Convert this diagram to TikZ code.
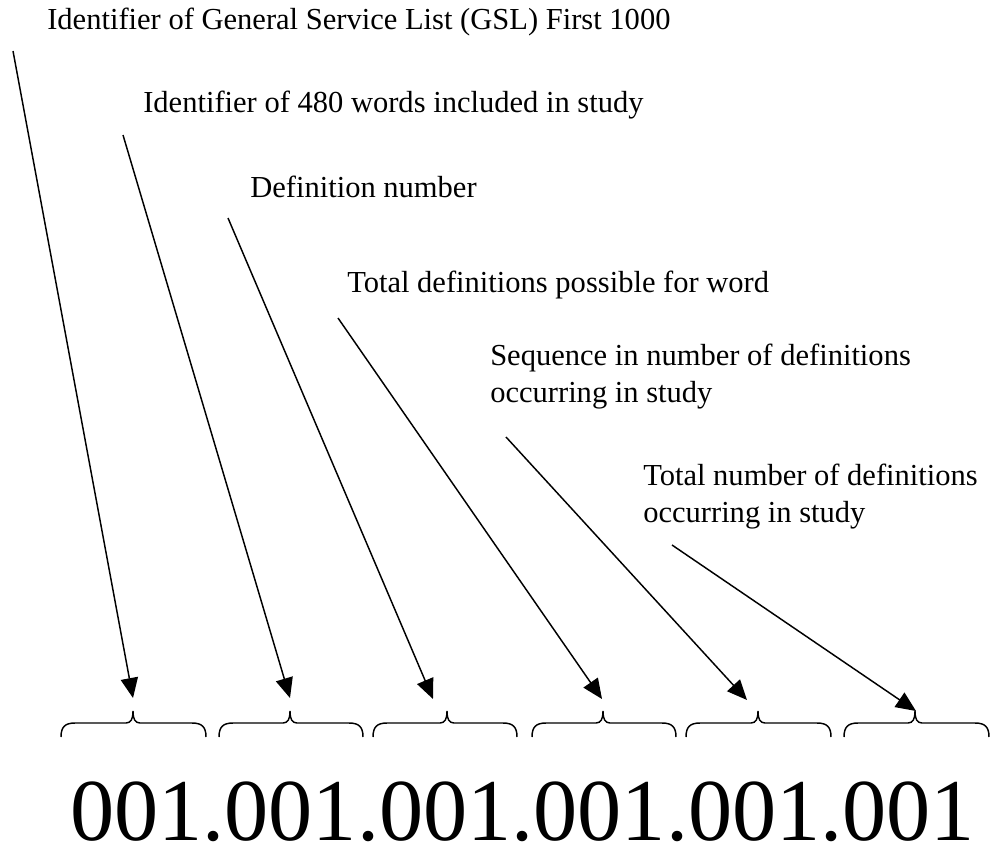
\documentclass[tikz,border=0pt]{standalone}
\usepackage{fontspec}
\setmainfont{Liberation Serif}
\usetikzlibrary{arrows.meta}
\newcommand\gslbrace[4]{% name, left x, cusp x, right x
  \coordinate (#1) at (#3,711);
  \draw[bracestyle] (#2,737) .. controls (#2,727) and (#2+4,723) .. (#2+14,723)
    -- (#3-7,723) .. controls (#3-2,723) and (#3,719) .. (#1)
    .. controls (#3,719) and (#3+2,723) .. (#3+7,723)
    -- (#4-14,723) .. controls (#4-4,723) and (#4,727) .. (#4,737);}
\begin{document}
\begin{tikzpicture}[x=0.75pt,y=-0.75pt,
  lbl/.style={font=\fontsize{22.9}{27.75}\selectfont,inner sep=0pt,anchor=base west,align=left},
  arr/.style={line width=1.1pt,-{Triangle[length=15pt,width=13pt]}},
  bracestyle/.style={line width=1.1pt},
  code/.style={font=\fontsize{66.2}{70}\selectfont,inner sep=0pt,anchor=base west,text depth=0pt}]
\useasboundingbox (0,0) rectangle (997,846);
% labels (multi-line labels are anchored at the baseline of their last line)
\node[lbl] (l1) at (47,30) {Identifier of General Service List (GSL) First 1000};
\node[lbl] (l2) at (143,112) {Identifier of 480 words included in study};
\node[lbl] (l3) at (250,197) {Definition number};
\node[lbl] (l4) at (347,292) {Total definitions possible for word};
\node[lbl] (l5) at (490,402) {Sequence in number of definitions\\occurring in study};
\node[lbl] (l6) at (643,522) {Total number of definitions\\occurring in study};
% arrow starts and ends
\coordinate (s1) at (13,51);   \coordinate (t1) at (133,698);
\coordinate (s2) at (123,135); \coordinate (t2) at (290,698);
\coordinate (s3) at (228,218); \coordinate (t3) at (433,699);
\coordinate (s4) at (338,318); \coordinate (t4) at (602,699);
\coordinate (s5) at (506,437); \coordinate (t5) at (747,700);
\coordinate (s6) at (672,545); \coordinate (t6) at (916,711);
\draw[arr] (s1) -- (t1);
\draw[arr] (s2) -- (t2);
\draw[arr] (s3) -- (t3);
\draw[arr] (s4) -- (t4);
\draw[arr] (s5) -- (t5);
\draw[arr] (s6) -- (t6);
% braces
\gslbrace{b1}{61}{133}{206}
\gslbrace{b2}{219}{290}{363}
\gslbrace{b3}{373}{447}{517}
\gslbrace{b4}{532}{603}{676}
\gslbrace{b5}{686}{758}{831}
\gslbrace{b6}{844}{915}{989}
% code number
\node[code] (num) at (70,840) {001.001.001.001.001.001};
\end{tikzpicture}
\end{document}
